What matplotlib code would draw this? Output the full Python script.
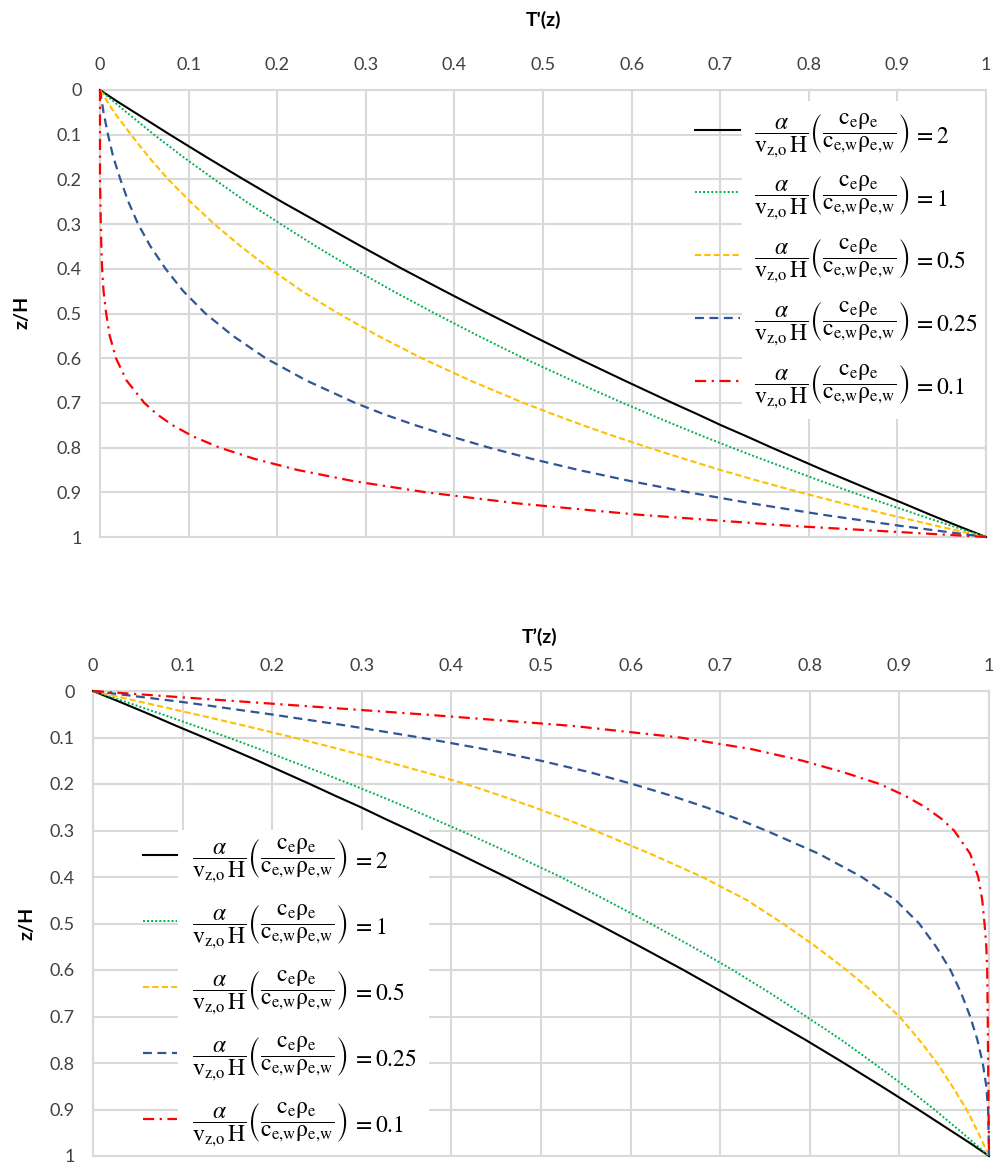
import matplotlib
matplotlib.use("Agg")
import matplotlib.pyplot as plt
from matplotlib.patches import Rectangle
from matplotlib.transforms import Bbox

plt.rcParams["font.family"] = ["Lato", "DejaVu Sans"]
plt.rcParams["mathtext.fontset"] = "stix"

# ---------------------------------------------------------------------------
# Data: dimensionless temperature T'(z) against dimensionless depth z/H
# for five values of alpha/(v_z,o H) * (c_e rho_e / c_e,w rho_e,w)
# ---------------------------------------------------------------------------
ratio_labels = ["2", "1", "0.5", "0.25", "0.1"]

# upper panel
z_top = [0, 0.025, 0.05, 0.1, 0.15, 0.2, 0.25, 0.3, 0.35, 0.4, 0.45, 0.5, 0.55,
         0.6, 0.65, 0.7, 0.725, 0.75, 0.775, 0.8, 0.825, 0.85, 0.875, 0.9,
         0.925, 0.95, 0.975, 1]
T_top_2 = [0, 0.019, 0.039, 0.079, 0.120, 0.162, 0.205, 0.250, 0.295, 0.341,
           0.389, 0.438, 0.488, 0.539, 0.592, 0.646, 0.674, 0.701, 0.730,
           0.758, 0.787, 0.816, 0.846, 0.876, 0.907, 0.937, 0.968, 1]
T_top_1 = [0, 0.015, 0.030, 0.061, 0.094, 0.129, 0.165, 0.204, 0.244, 0.286,
           0.331, 0.378, 0.427, 0.478, 0.533, 0.590, 0.620, 0.650, 0.681,
           0.713, 0.746, 0.780, 0.814, 0.849, 0.886, 0.923, 0.961, 1]
T_top_05 = [0, 0.008, 0.016, 0.035, 0.055, 0.077, 0.102, 0.129, 0.159, 0.192,
            0.228, 0.269, 0.314, 0.363, 0.418, 0.478, 0.511, 0.545, 0.581,
            0.619, 0.659, 0.700, 0.744, 0.790, 0.839, 0.890, 0.944, 1]
T_top_025 = [0, 0.002, 0.004, 0.009, 0.015, 0.023, 0.032, 0.043, 0.057, 0.074,
             0.094, 0.119, 0.150, 0.187, 0.233, 0.288, 0.320, 0.356, 0.396,
             0.439, 0.487, 0.540, 0.599, 0.664, 0.736, 0.815, 0.903, 1]
T_top_01 = [0, 0, 0, 0, 0, 0, 0.0005, 0.0009, 0.0015, 0.0024, 0.004, 0.007,
            0.011, 0.018, 0.030, 0.050, 0.064, 0.082, 0.105, 0.135, 0.174,
            0.223, 0.286, 0.368, 0.472, 0.607, 0.779, 1]

# lower panel
z_bot = [0, 0.025, 0.05, 0.075, 0.1, 0.125, 0.15, 0.175, 0.2, 0.225, 0.25,
         0.275, 0.3, 0.35, 0.4, 0.45, 0.5, 0.55, 0.6, 0.65, 0.7, 0.75, 0.8,
         0.85, 0.9, 0.95, 0.975, 1]
T_bot_2 = [0, 0.032, 0.063, 0.093, 0.124, 0.154, 0.184, 0.213, 0.242, 0.270,
           0.299, 0.326, 0.354, 0.408, 0.461, 0.512, 0.562, 0.611, 0.659,
           0.705, 0.750, 0.795, 0.838, 0.880, 0.921, 0.961, 0.981, 1]
T_bot_1 = [0, 0.039, 0.077, 0.114, 0.151, 0.186, 0.220, 0.254, 0.287, 0.319,
           0.350, 0.380, 0.410, 0.467, 0.522, 0.573, 0.622, 0.669, 0.714,
           0.756, 0.796, 0.835, 0.871, 0.906, 0.939, 0.970, 0.985, 1]
T_bot_05 = [0, 0.057, 0.114, 0.170, 0.224, 0.275, 0.324, 0.371, 0.416, 0.455,
            0.492, 0.527, 0.560, 0.622, 0.680, 0.730, 0.770, 0.807, 0.841,
            0.872, 0.900, 0.922, 0.942, 0.959, 0.975, 0.988, 0.994, 1]
T_bot_025 = [0, 0.105, 0.198, 0.285, 0.365, 0.437, 0.500, 0.555, 0.602, 0.645,
             0.684, 0.719, 0.751, 0.810, 0.858, 0.896, 0.922, 0.941, 0.957,
             0.969, 0.979, 0.987, 0.993, 0.997, 0.999, 0.9995, 0.9998, 1]
T_bot_01 = [0, 0.183, 0.366, 0.535, 0.655, 0.735, 0.792, 0.838, 0.878, 0.906,
            0.929, 0.947, 0.961, 0.979, 0.988, 0.9925, 0.995, 0.997, 0.998,
            0.9983, 0.9986, 0.9988, 0.999, 0.9993, 0.9995, 0.9998, 0.9999, 1]

tick_values = [0, 0.1, 0.2, 0.3, 0.4, 0.5, 0.6, 0.7, 0.8, 0.9, 1]
tick_labels = ["0", "0.1", "0.2", "0.3", "0.4", "0.5", "0.6", "0.7", "0.8",
               "0.9", "1"]

# ---------------------------------------------------------------------------
# Styling
# ---------------------------------------------------------------------------
series_styles = [
    dict(color="black", linestyle="-", linewidth=1.5),
    dict(color="#00B050", linestyle=(0, (1, 1.1)), linewidth=1.4),
    dict(color="#FFC000", linestyle=(0, (3, 1.5)), linewidth=1.5),
    dict(color="#2F5597", linestyle=(0, (4, 2.5)), linewidth=1.6),
    dict(color="#FF0000", linestyle=(0, (5, 2.5, 1, 2.5)), linewidth=1.6),
]
GRID = "#d9d9d9"
TICK_COLOR = "#404040"
FRAC_LABEL = (r"$\dfrac{\alpha}{\mathrm{v_{z{,}o}\,H}}"
              r"\left(\dfrac{\mathrm{c_e\rho_e}}{\mathrm{c_{e{,}w}\rho_{e{,}w}}}\right)$")

W, H = 997, 1164
fig = plt.figure(figsize=(W / 100, H / 100), dpi=100)


def px_rect(left, top, right, bottom):
    return [left / W, 1 - bottom / H, (right - left) / W, (bottom - top) / H]


def style_axes(ax):
    ax.set_xlim(0, 1)
    ax.set_ylim(1, 0)
    ax.xaxis.tick_top()
    ax.set_xticks(tick_values)
    ax.set_yticks(tick_values)
    ax.set_xticklabels(tick_labels)
    ax.set_yticklabels(tick_labels)
    ax.tick_params(axis="x", length=0, pad=12, labelsize=13,
                   labelcolor=TICK_COLOR)
    ax.tick_params(axis="y", length=0, pad=13, labelsize=13,
                   labelcolor=TICK_COLOR)
    ax.grid(True, color=GRID, linewidth=1.5)
    ax.set_axisbelow(True)
    for sp in ax.spines.values():
        sp.set_color(GRID)
        sp.set_linewidth(1.5)


def draw_panel(ax, z, series):
    handles = []
    for T, st in zip(series, series_styles):
        ln, = ax.plot(T, z, clip_on=False, zorder=3, **st)
        handles.append(ln)
    return handles


def add_legend(ax, handles, anchor_px, handlelength, pad, spacing):
    return ax.legend(handles, [FRAC_LABEL] * len(handles),
                     loc="upper left",
                     bbox_to_anchor=(anchor_px[0] / W, 1 - anchor_px[1] / H),
                     bbox_transform=fig.transFigure, frameon=False,
                     borderpad=0, handlelength=handlelength,
                     handletextpad=pad, labelspacing=spacing, fontsize=17)


def finish_legend(ax, leg, pad):
    # append "= value" to each entry and put a white panel behind the texts
    fig.canvas.draw()
    r = fig.canvas.get_renderer()
    to_fig = fig.transFigure.inverted()
    boxes = []
    for t, val in zip(leg.get_texts(), ratio_labels):
        bb = t.get_window_extent(r)
        x, y = to_fig.transform((bb.x1 + 4, (bb.y0 + bb.y1) / 2 - 1))
        vt = fig.text(x, y, "$= " + val + "$", ha="left", va="center",
                      fontsize=17, color="black", zorder=6)
        boxes.append(bb)
        boxes.append(vt.get_window_extent(r))
    bb = Bbox.union(boxes)
    bb = Bbox.from_extents(bb.x0 - pad[0], bb.y0 - pad[3],
                           bb.x1 + pad[1], bb.y1 + pad[2])
    bb_ax = bb.transformed(ax.transAxes.inverted())
    ax.add_patch(Rectangle((bb_ax.x0, bb_ax.y0), bb_ax.width, bb_ax.height,
                           transform=ax.transAxes, facecolor="white",
                           edgecolor="none", zorder=1.5))


# upper panel
ax1 = fig.add_axes(px_rect(100, 90, 986, 537))
style_axes(ax1)
h1 = draw_panel(ax1, z_top, [T_top_2, T_top_1, T_top_05, T_top_025, T_top_01])
leg1 = add_legend(ax1, h1, (683, 99), 1.9, 0.6, 0.6)

# lower panel
ax2 = fig.add_axes(px_rect(93, 691, 989, 1156))
style_axes(ax2)
h2 = draw_panel(ax2, z_bot, [T_bot_2, T_bot_1, T_bot_05, T_bot_025, T_bot_01])
leg2 = add_legend(ax2, h2, (131, 824), 1.45, 0.65, 0.74)

# axis titles
fig.text(543 / W, 1 - 20 / H, "T'(z)", ha="center", va="center",
         fontsize=14, fontweight="bold", color="black")
fig.text(22 / W, 1 - 312 / H, "z/H", ha="center", va="center",
         fontsize=14, fontweight="bold", rotation=90, color="black")
fig.text(540 / W, 1 - 637 / H, "T\u2019(z)", ha="center", va="center",
         fontsize=14, fontweight="bold", color="black")
fig.text(27 / W, 1 - 923 / H, "z/H", ha="center", va="center",
         fontsize=14, fontweight="bold", rotation=90, color="black")

finish_legend(ax1, leg1, (12, 8, 10, 8))
finish_legend(ax2, leg2, (14, 12, 6, 6))

fig.savefig("out.png", dpi=100, facecolor="white")
